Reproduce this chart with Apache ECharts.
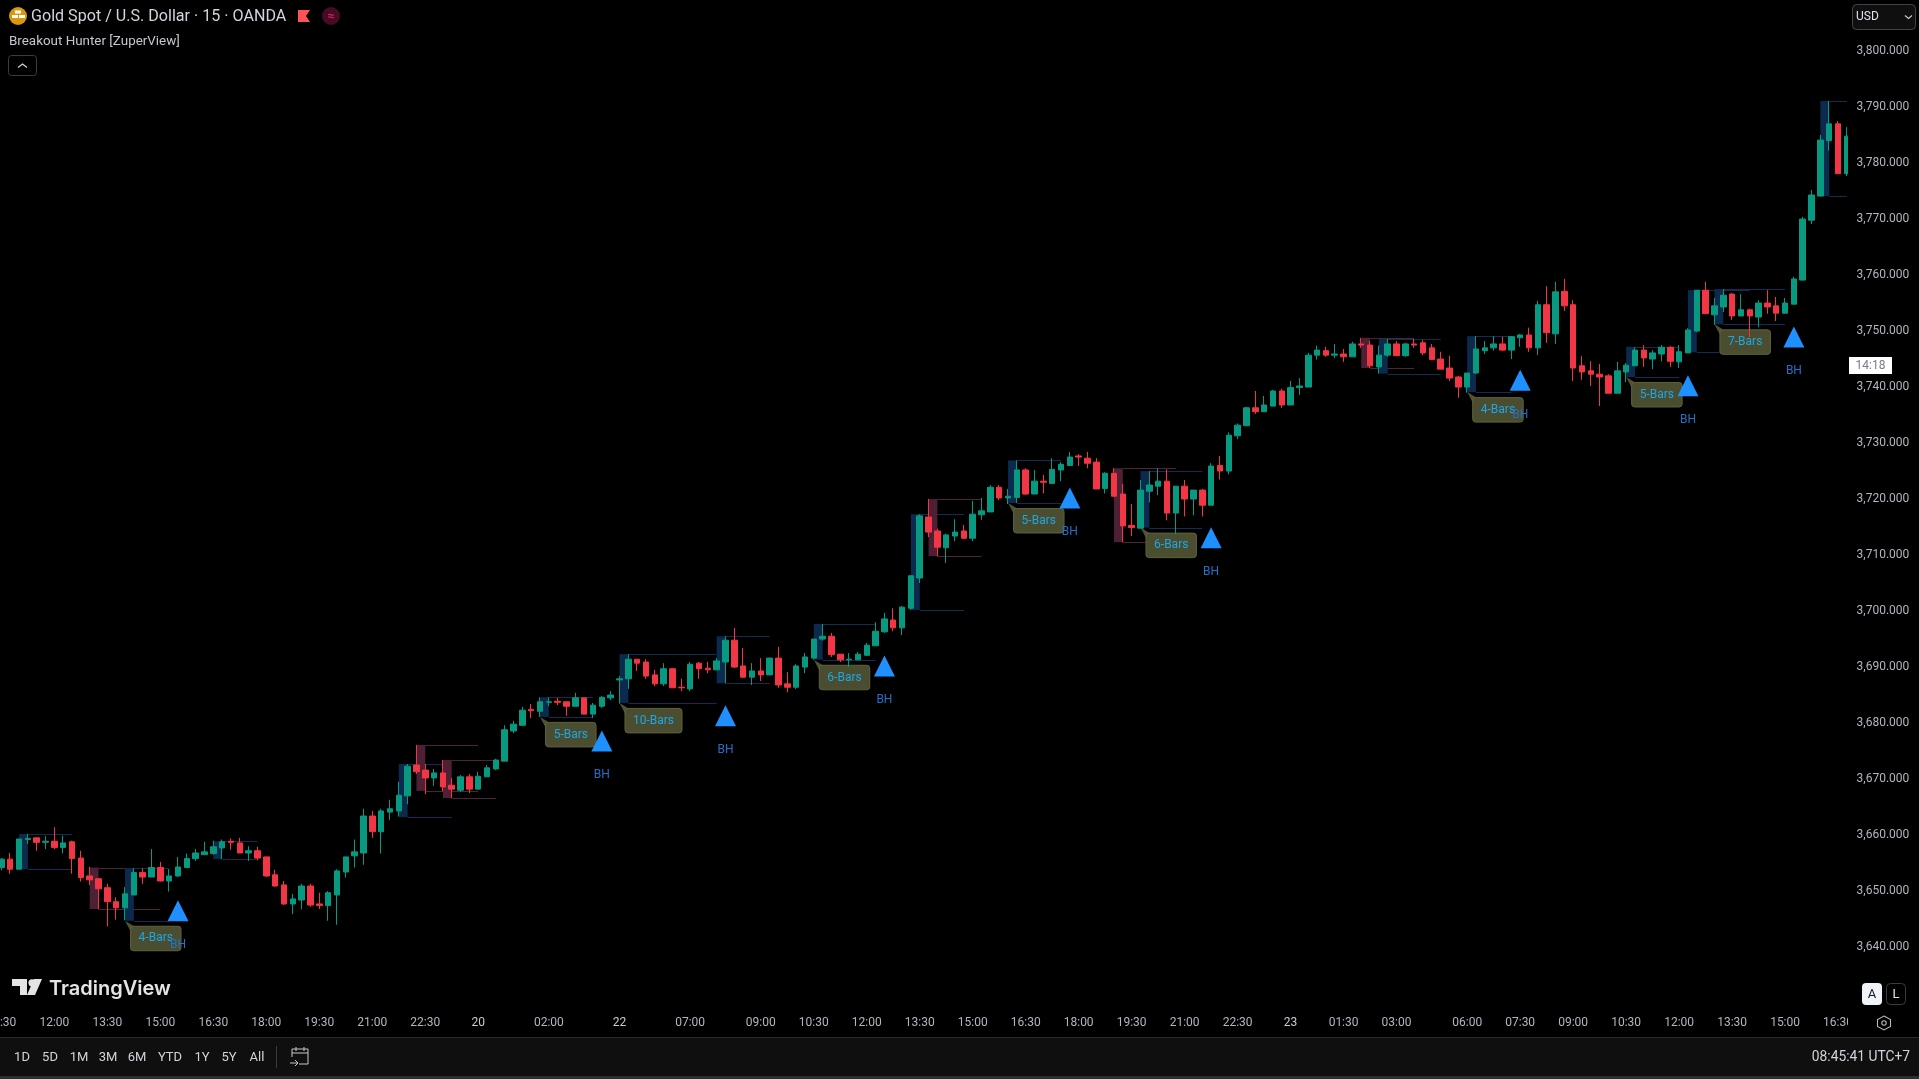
<!DOCTYPE html>
<html>
<head>
<meta charset="utf-8">
<title>Gold Spot / U.S. Dollar - Breakout Hunter</title>
<style>html,body{margin:0;padding:0;background:#000;overflow:hidden}#chart{width:1919px;height:1079px}</style>
<script src="https://cdn.jsdelivr.net/npm/echarts@6/dist/echarts.min.js"></script>
</head>
<body>
<div id="chart"></div>
<script>
// Each row: open, close, low, high
const candlesFriA = [
[3654.1,3655.6,3653.6,3655.8],[3655.6,3653.8,3653.0,3656.7],[3653.8,3659.2,3653.8,3659.2],[3659.1,3659.3,3658.3,3660.1],[3659.4,3658.6,3657.1,3659.5],
[3658.6,3658.8,3657.4,3659.7],[3658.8,3657.7,3657.4,3661.3],[3657.7,3658.5,3656.6,3659.8],[3658.7,3655.7,3653.0,3658.9],[3655.8,3652.3,3651.6,3657.1],
[3652.6,3651.9,3651.0,3654.2],[3652.1,3650.3,3646.7,3652.2],[3650.5,3648.0,3643.6,3651.2],[3648.0,3646.9,3644.8,3648.8],[3646.9,3649.4,3644.7,3650.6],
[3649.2,3653.2,3649.2,3654.0],[3653.2,3652.4,3651.2,3654.0],[3652.4,3654.1,3652.4,3657.4],[3654.1,3651.7,3651.6,3655.1],[3651.7,3652.6,3649.8,3653.8],
[3652.6,3654.2,3652.4,3656.0],[3654.1,3655.7,3654.1,3656.6],[3655.7,3656.7,3655.3,3657.4],[3656.4,3656.9,3656.4,3658.7],[3656.6,3657.8,3656.4,3658.9],
[3657.6,3658.7,3655.6,3659.1],[3658.8,3658.6,3657.3,3659.3],[3658.5,3656.7,3656.7,3659.4],[3656.7,3657.1,3655.3,3657.9],[3657.1,3655.8,3655.4,3657.8]
];
const candlesFriB = [
[3656.0,3652.6,3652.4,3656.0],[3652.8,3650.8,3650.7,3653.7],[3651.0,3647.6,3647.4,3651.7],[3647.6,3648.5,3645.8,3649.4],[3648.3,3650.8,3646.6,3651.2],
[3650.8,3647.4,3647.1,3651.2],[3647.6,3647.3,3646.7,3649.6],[3647.3,3649.6,3644.6,3649.9],[3649.2,3653.5,3643.9,3653.8],[3653.3,3656.0,3652.3,3656.0],
[3656.2,3656.9,3654.1,3659.1],[3656.7,3663.3,3654.6,3664.6],[3663.3,3660.5,3659.4,3664.2],[3660.5,3664.2,3656.6,3664.6],[3664.0,3664.6,3662.6,3666.2],
[3664.2,3667.0,3663.2,3669.4],[3666.9,3672.2,3665.4,3672.6],[3672.4,3671.2,3670.8,3676.0],[3671.5,3670.1,3667.2,3672.6],[3670.1,3671.0,3668.7,3671.7],
[3671.0,3668.5,3667.7,3673.3],[3668.8,3668.1,3666.5,3670.1],[3667.9,3670.3,3667.6,3670.6],[3670.3,3668.1,3667.4,3670.8]
];
const candlesSat = [
[3668.1,3670.4,3668.1,3671.2],[3670.3,3671.9,3670.3,3672.4],[3671.7,3673.3,3671.5,3673.5],[3673.1,3678.7,3673.1,3679.5],[3678.5,3679.7,3678.1,3680.3],
[3679.5,3682.2,3679.5,3682.8],[3682.3,3682.1,3680.8,3683.3],[3682.0,3683.7,3681.0,3684.5],[3683.6,3683.7,3682.9,3684.5],[3683.8,3683.6,3683.1,3684.4],
[3683.7,3682.9,3681.2,3683.7],[3682.9,3684.4,3682.9,3685.3],[3684.4,3681.5,3681.5,3684.4],[3681.5,3683.1,3680.8,3683.5],[3682.9,3684.5,3682.6,3684.7],
[3684.4,3684.9,3684.0,3685.6]
];
const candlesMonA = [
[3687.6,3687.8,3683.4,3688.3],[3687.8,3691.3,3686.0,3692.2],[3691.3,3690.6,3689.2,3691.3],[3690.8,3688.3,3687.8,3691.3],[3688.5,3686.9,3686.5,3689.4],
[3686.9,3689.6,3686.5,3690.6],[3689.6,3686.2,3686.2,3689.7],[3686.3,3686.2,3685.6,3687.8],[3686.0,3690.4,3685.6,3690.8],[3690.6,3689.6,3687.8,3690.8],
[3689.7,3689.4,3688.8,3690.8],[3689.4,3691.0,3689.4,3691.5],[3690.8,3694.7,3687.0,3695.4],[3694.7,3689.9,3689.7,3696.9],[3690.1,3688.1,3687.9,3693.3],
[3688.1,3689.2,3686.7,3690.6],[3689.2,3688.5,3687.4,3691.5],[3688.5,3691.5,3688.5,3691.6],[3691.5,3686.7,3686.2,3693.5],[3686.9,3686.3,3685.4,3689.0],
[3686.3,3690.1,3686.0,3690.4],[3689.9,3691.7,3688.8,3692.4],[3691.5,3694.9,3691.2,3694.9]
];
const candlesMonB = [
[3694.9,3695.4,3694.6,3697.6],[3695.4,3692.1,3691.7,3696.0],[3692.2,3691.2,3690.8,3692.2],[3691.2,3691.3,3689.9,3692.4],[3691.2,3692.2,3691.2,3692.6],
[3692.0,3693.8,3691.9,3694.2],[3693.7,3696.3,3693.7,3697.9],[3696.2,3698.5,3696.0,3699.6],[3698.3,3696.9,3696.3,3700.4],[3696.9,3700.6,3695.6,3700.8],
[3700.4,3706.2,3700.1,3706.2],[3705.8,3716.9,3704.9,3717.2],[3716.7,3714.0,3713.1,3719.9],[3714.2,3711.3,3709.7,3714.6],[3711.2,3713.5,3708.5,3713.7],
[3713.3,3714.0,3712.4,3716.3],[3714.2,3712.9,3712.8,3715.3],[3712.9,3717.2,3712.4,3719.6],[3717.1,3717.8,3716.2,3720.1],[3717.6,3722.0,3717.6,3722.4]
];
const candlesMonC = [
[3722.0,3720.1,3719.7,3722.4],[3720.1,3720.4,3719.0,3721.7],[3720.2,3725.1,3719.2,3726.8],[3725.1,3720.8,3720.6,3725.4],[3720.8,3723.1,3720.8,3725.1],
[3723.1,3722.9,3720.9,3724.2],[3722.7,3725.2,3722.7,3727.2],[3725.1,3726.1,3723.1,3726.5],[3725.9,3727.4,3725.9,3728.3],[3727.6,3727.4,3725.8,3727.9],
[3727.2,3726.3,3725.4,3728.3],[3726.5,3721.7,3721.7,3727.2],[3721.8,3724.5,3720.9,3724.7],[3724.5,3720.4,3720.4,3725.4],[3720.8,3715.1,3712.2,3722.6],
[3715.2,3714.8,3713.3,3719.0],[3714.7,3721.5,3714.7,3723.3],[3721.3,3722.4,3719.3,3724.9],[3722.2,3723.1,3720.6,3725.4],[3723.1,3717.4,3716.1,3725.2],
[3717.4,3722.2,3713.6,3722.2],[3722.2,3719.9,3716.8,3723.3],[3719.9,3721.5,3717.0,3721.5],[3721.5,3718.8,3716.8,3721.7],[3718.8,3725.8,3718.8,3726.3],
[3725.9,3724.9,3723.4,3727.6],[3724.9,3731.3,3724.3,3731.8],[3731.2,3733.1,3730.6,3733.4]
];
const candlesTueA = [
[3733.0,3736.2,3733.0,3736.4],[3736.2,3735.5,3735.1,3739.2],[3735.5,3736.7,3735.5,3738.3],[3736.5,3739.2,3736.5,3739.4],[3739.2,3736.7,3736.2,3739.6],
[3736.7,3739.8,3736.7,3741.0],[3739.8,3740.1,3738.5,3741.5],[3739.9,3745.6,3739.9,3746.0],[3745.6,3746.5,3744.8,3747.3],[3746.4,3745.6,3745.3,3747.1],
[3745.6,3745.8,3745.1,3747.6],[3745.8,3745.3,3744.4,3746.7],[3745.3,3747.6,3745.3,3748.0],[3747.6,3747.4,3746.9,3748.7],[3747.4,3743.7,3743.3,3748.1],
[3743.5,3745.6,3742.3,3747.3],[3745.6,3747.6,3745.3,3748.5],[3747.6,3745.5,3745.5,3748.1],[3745.5,3747.6,3745.3,3747.8],[3747.6,3747.4,3746.9,3748.5],
[3747.8,3746.0,3745.6,3748.3],[3746.9,3744.8,3744.8,3747.6],[3744.9,3743.1,3743.1,3746.2],[3743.3,3741.5,3741.0,3745.5],[3741.7,3739.9,3738.0,3741.9]
];
const candlesTueB = [
[3739.9,3742.4,3738.9,3742.4],[3742.4,3746.7,3742.3,3749.0],[3746.4,3746.9,3745.8,3748.1],[3746.9,3747.6,3746.4,3749.0],[3747.6,3746.5,3746.4,3748.9],
[3746.5,3748.9,3744.9,3749.0],[3748.7,3749.2,3747.1,3749.4],[3749.2,3746.9,3746.2,3750.5],[3746.9,3754.6,3745.6,3755.3],[3754.6,3749.6,3747.8,3757.9],
[3749.4,3756.9,3747.6,3758.7],[3757.0,3754.4,3753.5,3759.2],[3754.6,3743.3,3741.0,3755.4],[3743.7,3742.6,3741.2,3745.4],[3742.8,3742.2,3740.1,3744.5],
[3742.2,3741.7,3736.5,3744.0],[3741.9,3738.8,3738.8,3742.2],[3738.8,3742.8,3738.8,3744.4],[3742.6,3743.8,3740.8,3744.2],[3743.7,3746.5,3743.7,3747.0],
[3746.5,3745.1,3743.5,3747.4],[3744.9,3746.0,3743.1,3746.5],[3745.8,3747.0,3744.5,3747.4],[3747.0,3744.5,3743.5,3747.2],[3744.4,3746.2,3743.3,3747.4]
];
const candlesTueC = [
[3746.0,3750.1,3746.0,3750.4],[3749.9,3757.2,3749.7,3757.2],[3757.2,3753.0,3753.0,3758.7],[3752.8,3754.4,3751.0,3755.8],[3754.2,3756.3,3753.3,3757.4],
[3756.5,3752.6,3751.9,3756.7],[3752.6,3753.7,3752.6,3756.5],[3753.7,3752.6,3748.8,3753.9],[3752.4,3754.9,3750.6,3755.4],[3754.9,3754.2,3753.0,3757.2],
[3754.4,3753.1,3751.7,3756.0],[3753.1,3754.9,3753.0,3755.8],[3754.7,3759.2,3754.7,3759.6],[3759.0,3769.9,3759.0,3770.3],[3769.7,3774.2,3769.0,3775.1],
[3774.0,3784.0,3774.0,3784.9],[3783.9,3786.9,3782.1,3791.0],[3786.9,3778.0,3778.0,3787.4],[3778.0,3784.7,3777.6,3786.3]
];
const candles = [].concat(candlesFriA,candlesFriB,candlesSat,candlesMonA,candlesMonB,candlesMonC,candlesTueA,candlesTueB,candlesTueC);

const tickBars   = [0,6,12,18,24,30,36,42,48,54,62,70,78,86,92,98,104,110,116,122,128,134,140,146,152,158,166,172,178,184,190,196,202,208];
const tickLabels = ['10:30','12:00','13:30','15:00','16:30','18:00','19:30','21:00','22:30','20','02:00','22','07:00','09:00','10:30','12:00','13:30','15:00','16:30','18:00','19:30','21:00','22:30','23','01:30','03:00','06:00','07:30','09:00','10:30','12:00','13:30','15:00','16:30'];
const dateTicks  = ['20','22','23'];
const categories = candles.map((c,i)=>{const k=tickBars.indexOf(i);return k<0?'':tickLabels[k];});

const zoneBars    = [2,10,14,24,45,47,50,61,70,81,92,103,105,114,126,129,154,156,166,184,191,194,206];
const zoneEnds    = [8,18,19,29,51,54,56,67,81,87,99,109,111,120,133,136,160,163,171,190,198,202,209];
const zoneTops    = [3660.1,3654.1,3654.0,3658.8,3672.6,3676.0,3673.3,3684.5,3692.2,3695.4,3697.6,3717.2,3719.9,3726.8,3725.4,3724.9,3748.7,3748.5,3749.0,3747.1,3757.2,3757.4,3791.0];
const zoneBottoms = [3653.8,3646.7,3644.6,3655.6,3663.1,3667.8,3666.5,3681.0,3683.5,3687.0,3691.2,3700.1,3709.7,3719.2,3712.2,3714.8,3743.3,3742.3,3739.0,3741.7,3746.1,3751.1,3774.0];
const zoneBearish = [0,1,0,0,0,1,1,0,0,0,0,0,1,0,1,0,1,0,0,0,0,0,0];

const tagBars   = [14,61,70,92,114,129,166,184,194];
const tagPrices = [3644.6,3681.0,3683.5,3691.2,3719.2,3714.8,3739.0,3741.7,3751.1];
const tagTexts  = ['4-Bars','5-Bars','10-Bars','6-Bars','5-Bars','6-Bars','4-Bars','5-Bars','7-Bars'];

const signalBars   = [20,68,82,100,121,137,172,191,203];
const signalPrices = [3646.4,3676.7,3681.2,3690.1,3720.1,3713.0,3741.1,3740.15,3748.85];

const rangeButtons = ['1D','5D','1M','3M','6M','YTD','1Y','5Y','All'];
const rangeCenters = [22,50,79,108,137,170,202,229,257];

const UI = 'Roboto, "Noto Sans", sans-serif';
const txt = (x,y,text,fill,size,o={}) => ({type:'text',z:o.z||200,x,y,silent:true,style:{text,fill,font:(o.weight||'normal')+' '+size+'px '+(o.family||UI),textAlign:o.align||'left',textVerticalAlign:'middle'}});
const shape = (type,sh,st,z=200) => ({type,z,silent:true,shape:sh,style:st});

const chrome = [
  shape('rect',{x:1848,y:0,width:71,height:1037},{fill:'#000'},50),
  // header
  shape('circle',{cx:18,cy:16,r:9},{fill:'#d9970c'}),
  shape('rect',{x:15,y:10.5,width:6,height:3},{fill:'#fff'}),
  shape('rect',{x:12,y:15,width:6,height:3},{fill:'#fff'}),
  shape('rect',{x:19,y:15,width:6,height:3},{fill:'#fff'}),
  txt(31,17,'Gold Spot / U.S. Dollar · 15 · OANDA','#d1d4dc',16.1),
  shape('polygon',{points:[[298,10],[310,10],[306,16],[310,22],[298,22]]},{fill:'#ff5252'}),
  shape('circle',{cx:331,cy:16,r:9},{fill:'#470c24'}),
  txt(331,16.5,'≈','#e0246b',13,{align:'center'}),
  txt(9,41.5,'Breakout Hunter [ZuperView]','#c4c7cf',13.4),
  shape('rect',{x:8.5,y:55.5,width:28,height:20,r:3},{fill:'none',stroke:'#3c3c3c',lineWidth:1}),
  shape('polyline',{points:[[18,67.5],[22.5,64],[27,67.5]]},{fill:'none',stroke:'#d1d4dc',lineWidth:1.2}),
  // currency selector
  shape('rect',{x:1852.5,y:4.5,width:63,height:25,r:4},{fill:'#0f0f0f',stroke:'#434343',lineWidth:1}),
  txt(1856,17,'USD','#e0e3eb',12),
  shape('polyline',{points:[[1905,15.5],[1908.5,18.5],[1912,15.5]]},{fill:'none',stroke:'#c8c8c8',lineWidth:1.2}),
  // countdown
  shape('rect',{x:1849,y:357,width:43,height:17},{fill:'#fff'}),
  txt(1870.5,365.5,'14:18','#787b86',12,{align:'center'}),
  // logo
  shape('polygon',{points:[[12,979],[27,979],[27,995],[20,995],[20,986],[12,986]]},{fill:'#e4e4e4'}),
  shape('circle',{cx:32,cy:982.8,r:3.6},{fill:'#e4e4e4'}),
  shape('polygon',{points:[[34,979],[42,979],[35,995],[27,995]]},{fill:'#e4e4e4'}),
  txt(49,989,'TradingView','#e4e4e4',20,{weight:'600',family:'Inter, Roboto, sans-serif'}),
  // scale buttons
  shape('rect',{x:1862,y:983,width:20,height:22,r:4},{fill:'#f0f3fa'}),
  txt(1872,994.5,'A','#131722',13,{align:'center'}),
  shape('rect',{x:1886.5,y:983.5,width:19,height:21,r:4},{fill:'none',stroke:'#3c3c3c',lineWidth:1}),
  txt(1896,994.5,'L','#e0e3eb',13,{align:'center'}),
  shape('polygon',{points:[[1884,1016],[1890.5,1019.5],[1890.5,1026.5],[1884,1030],[1877.5,1026.5],[1877.5,1019.5]]},{fill:'none',stroke:'#b8b8b8',lineWidth:1.1}),
  shape('circle',{cx:1884,cy:1023,r:2.2},{fill:'none',stroke:'#b8b8b8',lineWidth:1.1}),
  // bottom toolbar
  shape('rect',{x:0,y:1037,width:1919,height:39},{fill:'#0f0f0f'},190),
  shape('rect',{x:0,y:1037,width:1919,height:1},{fill:'#2a2a2a'},191),
  shape('rect',{x:0,y:1076,width:1919,height:3},{fill:'#2e2e2e'},191),
  shape('rect',{x:276,y:1046,width:1,height:22},{fill:'#3a3a3a'}),
  shape('polyline',{points:[[292,1057],[292,1049],[308,1049],[308,1064],[299,1064]]},{fill:'none',stroke:'#c8c8c8',lineWidth:1}),
  shape('line',{x1:292,y1:1053,x2:308,y2:1053},{stroke:'#c8c8c8',lineWidth:1}),
  shape('line',{x1:296,y1:1047,x2:296,y2:1051},{stroke:'#c8c8c8',lineWidth:1}),
  shape('line',{x1:304,y1:1047,x2:304,y2:1051},{stroke:'#c8c8c8',lineWidth:1}),
  shape('polyline',{points:[[290,1063],[298,1063],[295,1060]]},{fill:'none',stroke:'#c8c8c8',lineWidth:1}),
  shape('line',{x1:298,y1:1063,x2:295,y2:1066},{stroke:'#c8c8c8',lineWidth:1}),
  txt(1910,1058,'08:45:41 UTC+7','#d1d4dc',13.8,{align:'right'})
].concat(rangeButtons.map((b,i)=>txt(rangeCenters[i],1058,b,'#d1d4dc',13,{align:'center'})));

const chart = echarts.init(document.getElementById('chart'),null,{renderer:'canvas'});
chart.setOption({
  animation:false,
  backgroundColor:'#000',
  grid:{left:-3,top:-5.5,width:1854.3,height:1008,containLabel:false,outerBoundsMode:'none'},
  xAxis:{
    type:'category',data:categories,boundaryGap:true,z:1,
    axisLine:{show:false},axisTick:{show:false},splitLine:{show:false},
    axisLabel:{
      interval:(i,v)=>v!=='',margin:14,hideOverlap:false,
      formatter:v=>dateTicks.includes(v)?'{d|'+v+'}':v,
      color:'#b2b5be',fontSize:12,fontFamily:UI,
      rich:{d:{color:'#c8cbd3',fontSize:12,fontFamily:UI}}
    }
  },
  yAxis:{
    type:'value',position:'right',min:3630,max:3810,interval:10,scale:true,z:100,
    axisLine:{show:false},axisTick:{show:false},splitLine:{show:false},
    axisLabel:{
      align:'right',margin:58,color:'#b2b5be',fontSize:12,fontFamily:UI,padding:[2,0,0,0],
      formatter:v=>(v<=3630||v>=3810)?'':v.toLocaleString('en-US',{minimumFractionDigits:3,maximumFractionDigits:3})
    }
  },
  graphic:{elements:chrome},
  series:[
    {
      type:'custom',name:'Zones',z:1,silent:true,
      data:zoneBars.map((b,i)=>[b,zoneTops[i],zoneEnds[i],zoneBottoms[i],zoneBearish[i]]),
      encode:{x:0,y:1},
      renderItem:(p,api)=>{
        const a=api.value(0),top=api.value(1),end=api.value(2),bot=api.value(3),bear=api.value(4);
        const tl=api.coord([a,top]),tr=api.coord([a+1,top]),br=api.coord([a+1,bot]),te=api.coord([end,top]);
        const fill=bear?'#4e2033':'#0b2a4e',line=bear?'#4e2538':'#132d52';
        return {type:'group',children:[
          {type:'rect',shape:{x:tl[0],y:tl[1],width:tr[0]-tl[0],height:br[1]-tr[1]},style:{fill}},
          {type:'line',shape:{x1:tr[0],y1:Math.round(tr[1])+.5,x2:te[0],y2:Math.round(tr[1])+.5},style:{stroke:line,lineWidth:1}},
          {type:'line',shape:{x1:br[0],y1:Math.round(br[1])+.5,x2:te[0],y2:Math.round(br[1])+.5},style:{stroke:line,lineWidth:1}}
        ]};
      }
    },
    {
      type:'custom',name:'Tags',z:1,silent:true,
      data:tagBars.map((b,i)=>[b,tagPrices[i]]),
      encode:{x:0,y:1},
      renderItem:(p,api)=>{
        const pt=api.coord([api.value(0),api.value(1)]);
        const text=tagTexts[p.dataIndex];
        const w=text.length>6?57:50.5,h=24.5,bx=pt[0]+5.5,by=pt[1]+5.5;
        return {type:'group',children:[
          {type:'polygon',shape:{points:[[pt[0],pt[1]],[bx+4.5,by+.5],[bx+.5,by+6]]},style:{fill:'#4f5233'}},
          {type:'rect',shape:{x:bx,y:by,width:w,height:h,r:3},style:{fill:'#4a4d2f',stroke:'#5f6238',lineWidth:1}},
          {type:'text',style:{x:bx+w/2,y:by+h/2,text,fill:'#1aa8e8',font:'12px '+UI,textAlign:'center',textVerticalAlign:'middle'}}
        ]};
      }
    },
    {
      type:'candlestick',name:'XAUUSD',z:2,barWidth:6,data:candles,silent:true,
      itemStyle:{color:'#089981',color0:'#f23645',borderColor:'#089981',borderColor0:'#f23645',borderWidth:1}
    },
    {
      type:'scatter',name:'BH',z:3,silent:true,symbol:'triangle',symbolSize:[21,21],
      data:signalBars.map((b,i)=>[b,signalPrices[i]]),
      itemStyle:{color:'#1e90ff',opacity:1},
      label:{show:true,position:'bottom',distance:18,formatter:'BH',color:'#2470c8',fontSize:12,fontFamily:UI}
    }
  ]
});
</script>
</body>
</html>
